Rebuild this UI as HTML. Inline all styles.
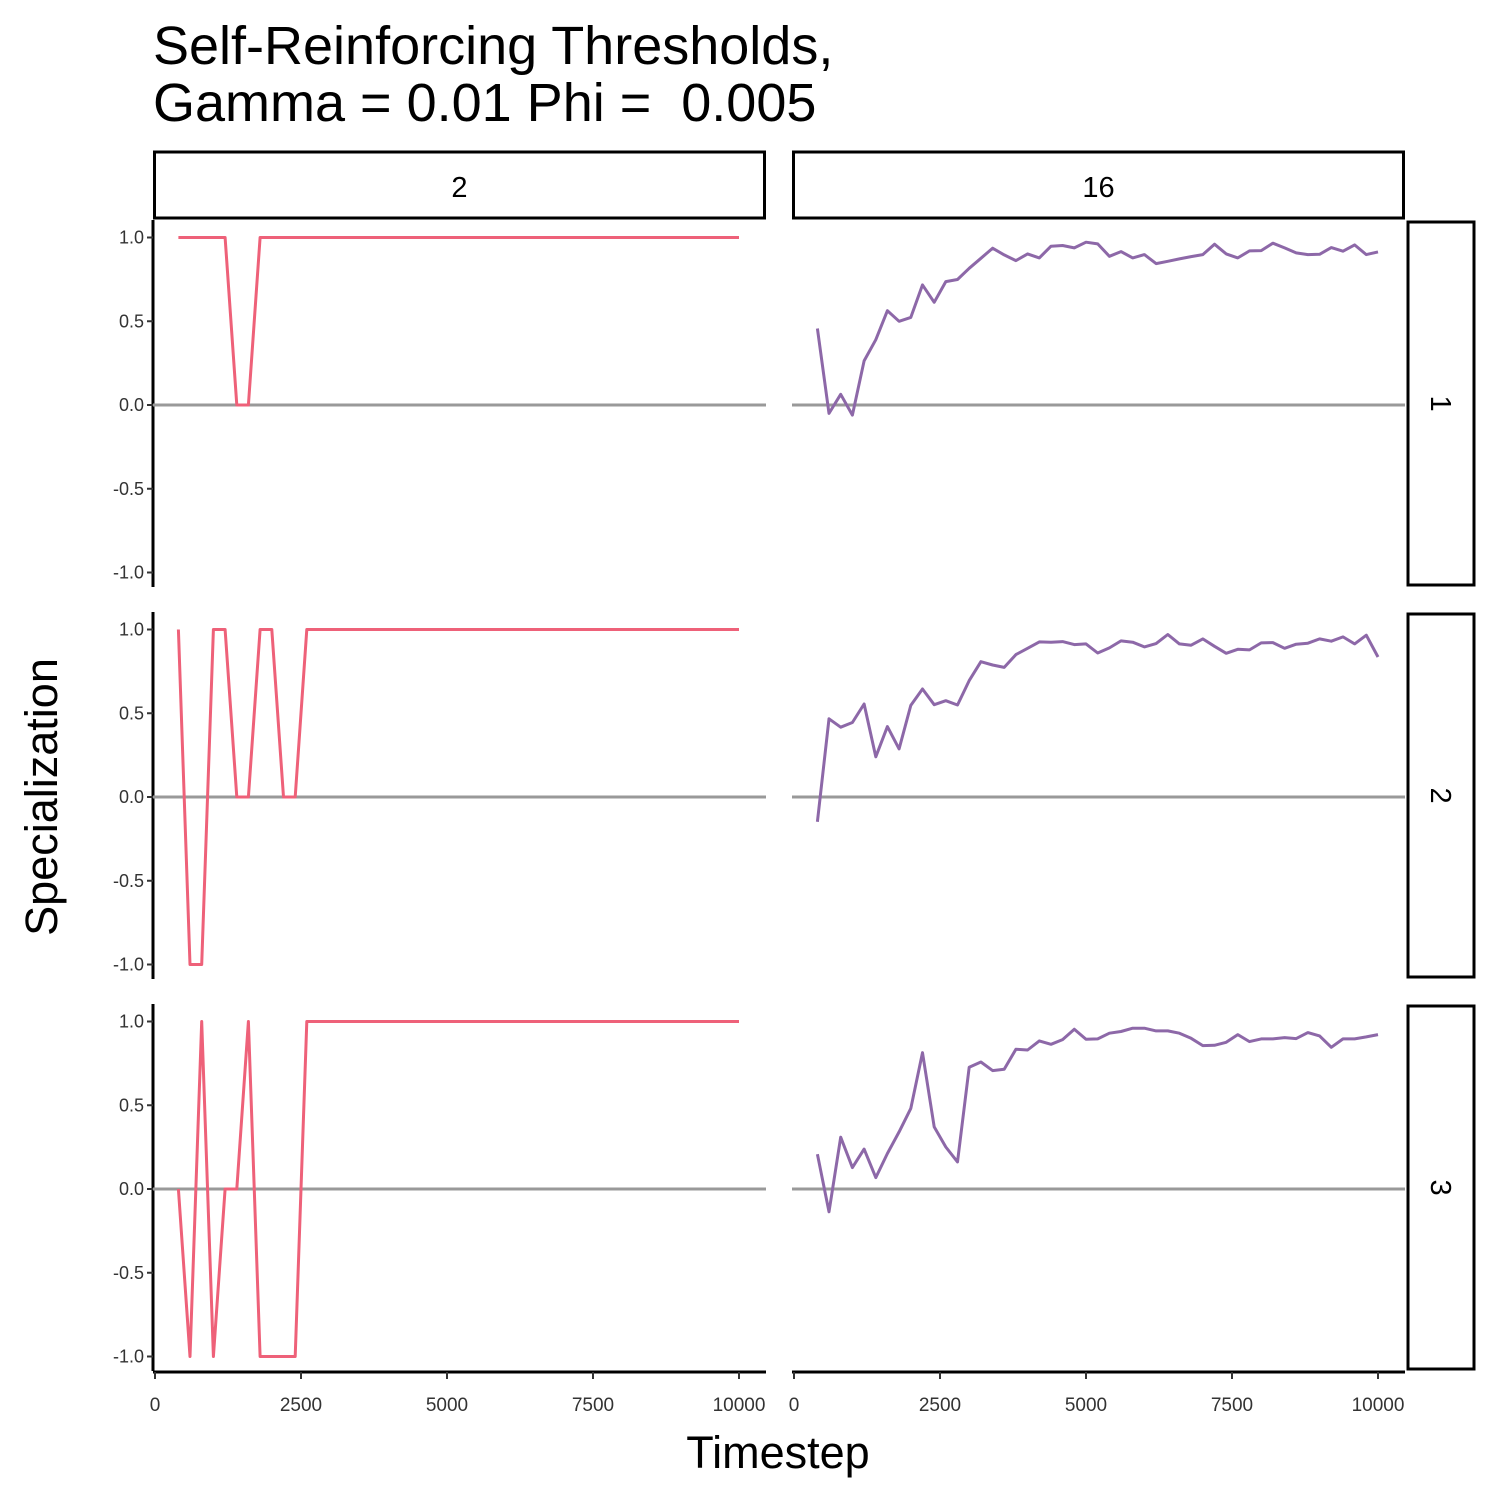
<!DOCTYPE html>
<html><head><meta charset="utf-8"><style>
body{margin:0;background:#fff}
svg{display:block;font-family:"Liberation Sans",Arial,sans-serif}
</style></head><body>
<svg id="chart" width="1500" height="1500" viewBox="0 0 1500 1500" xmlns="http://www.w3.org/2000/svg">
<rect width="1500" height="1500" fill="#fff"/>
<text x="153" y="64" font-size="54" style="white-space:pre">Self-Reinforcing Thresholds,</text>
<text x="153" y="121" font-size="54" style="white-space:pre">Gamma = 0.01 Phi =  0.005</text>
<text transform="translate(57,797) rotate(-90)" text-anchor="middle" font-size="45">Specialization</text>
<text x="778" y="1468" text-anchor="middle" font-size="45">Timestep</text>
<g id="plot"></g>
</svg>
<script>
const colNames = ["2","16"];
const rowNames = ["1","2","3"];
const timesteps = [];
for (let t = 400; t <= 10000; t += 200) timesteps.push(t);
const xTicks = [0,2500,5000,7500,10000];
const yTicks = [1.0,0.5,0.0,-0.5,-1.0];
const yTickLabels = ["1.0","0.5","0.0","-0.5","-1.0"];
const leftRow1 = [1,1,1,1,1,0,0,1,1,1,1,1,1,1,1,1,1,1,1,1,1,1,1,1,1,1,1,1,1,1,1,1,1,1,1,1,1,1,1,1,1,1,1,1,1,1,1,1,1];
const leftRow2 = [1,-1,-1,1,1,0,0,1,1,0,0,1,1,1,1,1,1,1,1,1,1,1,1,1,1,1,1,1,1,1,1,1,1,1,1,1,1,1,1,1,1,1,1,1,1,1,1,1,1];
const leftRow3 = [0,-1,1,-1,0,0,1,-1,-1,-1,-1,1,1,1,1,1,1,1,1,1,1,1,1,1,1,1,1,1,1,1,1,1,1,1,1,1,1,1,1,1,1,1,1,1,1,1,1,1,1];
const rightRow1 = [0.457,-0.05,0.064,-0.06,0.263,0.39,0.563,0.5,0.523,0.717,0.613,0.737,0.749,0.816,0.876,0.936,0.896,0.862,0.902,0.878,0.948,0.952,0.938,0.972,0.962,0.888,0.916,0.878,0.898,0.844,0.858,0.872,0.886,0.898,0.96,0.902,0.878,0.92,0.922,0.966,0.938,0.908,0.898,0.9,0.94,0.918,0.956,0.898,0.914];
const rightRow2 = [-0.148,0.467,0.417,0.445,0.555,0.24,0.42,0.287,0.547,0.645,0.551,0.575,0.549,0.695,0.808,0.788,0.774,0.85,0.888,0.926,0.924,0.928,0.91,0.914,0.86,0.89,0.932,0.924,0.896,0.916,0.97,0.914,0.906,0.944,0.9,0.858,0.882,0.878,0.92,0.922,0.888,0.912,0.918,0.944,0.93,0.956,0.914,0.966,0.836];
const rightRow3 = [0.208,-0.136,0.309,0.128,0.238,0.068,0.212,0.341,0.481,0.814,0.371,0.251,0.162,0.727,0.758,0.707,0.715,0.834,0.83,0.884,0.864,0.892,0.954,0.894,0.896,0.93,0.94,0.96,0.96,0.944,0.944,0.93,0.9,0.856,0.858,0.876,0.922,0.88,0.896,0.896,0.904,0.898,0.934,0.914,0.846,0.896,0.896,0.908,0.922];

const series = [[leftRow1,rightRow1],[leftRow2,rightRow2],[leftRow3,rightRow3]];
const colors = ["#ee6179","#8d68a8"];
const NS = "http://www.w3.org/2000/svg";
const g = document.getElementById('plot');
function mk(tag, attrs, parent){const e=document.createElementNS(NS,tag);for(const k in attrs)e.setAttribute(k,attrs[k]);(parent||g).appendChild(e);return e;}
const colX0 = [153,792], colW = 613;
const rowY0 = [220,612,1004], rowH = 367;
function xScale(c,t){return colX0[c]+2+(t/10000)*584;}
function yScale(r,v){return rowY0[r]+185-v*167.5;}

colNames.forEach((n,c)=>{
  const s=mk('rect',{x:colX0[c]+1.5,y:152,width:colW-3,height:66,fill:'#fff',stroke:'#000','stroke-width':3});
  
  
  const t=mk('text',{x:colX0[c]+colW/2,y:197,'text-anchor':'middle','font-size':29});
  t.textContent=n;
  
  
});
rowNames.forEach((n,r)=>{
  const s=mk('rect',{x:1408,y:rowY0[r]+2,width:66,height:rowH-4,fill:'#fff',stroke:'#000','stroke-width':3});
  
  
  const cy=rowY0[r]+rowH/2;
  const t=mk('text',{x:0,y:0,'text-anchor':'middle','font-size':29,transform:`translate(1431,${cy}) rotate(90)`});
  t.textContent=n;
  
  
});

for(let r=0;r<3;r++){
  const ax=mk('line',{x1:153,x2:153,y1:rowY0[r],y2:rowY0[r]+rowH,stroke:'#000','stroke-width':3});
  
  
  yTicks.forEach((v,i)=>{
    const y=yScale(r,v);
    const tk=mk('line',{x1:147,x2:153,y1:y,y2:y,stroke:'#333','stroke-width':2});
    
    
    const tl=mk('text',{x:144,y:y+6,'text-anchor':'end','font-size':18,fill:'#333'});
    tl.textContent=yTickLabels[i];
    
    
  });
  for(let c=0;c<2;c++){
    const y0=yScale(r,0);
    const zl=mk('line',{x1:colX0[c],x2:colX0[c]+colW,y1:y0,y2:y0,stroke:'#999','stroke-width':3});
    
    
    const vals=series[r][c];
    const pts=vals.map((v,i)=>xScale(c,timesteps[i]).toFixed(1)+','+yScale(r,v).toFixed(1)).join(' ');
    const pl=mk('polyline',{points:pts,fill:'none',stroke:colors[c],'stroke-width':3,'stroke-linejoin':'round'});
    
    
  }
}
for(let c=0;c<2;c++){
  const xa=mk('line',{x1:colX0[c],x2:colX0[c]+colW,y1:1372,y2:1372,stroke:'#000','stroke-width':3});
  
  
  xTicks.forEach(t=>{
    const x=xScale(c,t);
    const tk=mk('line',{x1:x,x2:x,y1:1372,y2:1379,stroke:'#333','stroke-width':2});
    
    
    const tl=mk('text',{x:x,y:1411,'text-anchor':'middle','font-size':19,fill:'#333'});
    tl.textContent=String(t);
    
    
  });
}
</script>
</body></html>
